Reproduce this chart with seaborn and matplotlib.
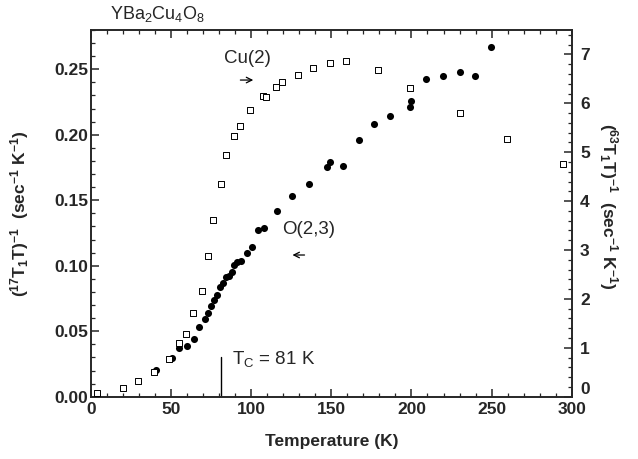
import numpy as np
import pandas as pd
import matplotlib
matplotlib.use("Agg")
import matplotlib.pyplot as plt
from matplotlib.ticker import MultipleLocator
import seaborn as sns

# O(2,3) 17O relaxation rate, left axis
T_O = [40.6, 50.7, 55.1, 60.1, 64.1, 67.6, 71.3, 73.2, 75.1, 76.8, 78.7, 80.5,
       82.2, 84.3, 86.1, 88.0, 89.5, 91.3, 93.8, 97.2, 100.7, 104.4, 107.8,
       115.9, 125.7, 135.9, 147.1, 149.2, 157.3, 167.5, 176.5, 186.5, 199.1,
       199.6, 209.3, 219.9, 230.3, 239.7, 249.5]
rate_O = [0.0204, 0.0293, 0.0370, 0.0387, 0.0441, 0.0532, 0.0596, 0.0641,
          0.0695, 0.0738, 0.0777, 0.0835, 0.0866, 0.0916, 0.0922, 0.0952,
          0.1008, 0.1029, 0.1038, 0.1100, 0.1145, 0.1273, 0.1290, 0.1418,
          0.1533, 0.1626, 0.1756, 0.1794, 0.1762, 0.1960, 0.2085, 0.2146,
          0.2214, 0.2260, 0.2426, 0.2449, 0.2477, 0.2449, 0.2668]

# Cu(2) 63Cu relaxation rate, right axis
T_Cu = [3.9, 20.0, 29.5, 39.3, 48.9, 54.9, 59.3, 63.9, 69.3, 72.8, 76.3, 81.1,
        84.1, 89.3, 93.2, 99.1, 107.6, 109.1, 115.3, 119.0, 129.0, 138.8,
        149.2, 159.2, 179.0, 199.1, 230.3, 259.5, 294.8]
rate_Cu = [0.08, 0.18, 0.32, 0.50, 0.77, 1.09, 1.28, 1.72, 2.16, 2.87, 3.61,
           4.35, 4.94, 5.33, 5.53, 5.86, 6.15, 6.14, 6.33, 6.43, 6.57, 6.72,
           6.82, 6.87, 6.68, 6.31, 5.81, 5.28, 4.75]

Tc = 81

df_O = pd.DataFrame({"T": T_O, "rate": rate_O})
df_Cu = pd.DataFrame({"T": T_Cu, "rate": rate_Cu})

sns.set_style("ticks")
plt.rcParams["font.family"] = ["Liberation Sans", "DejaVu Sans"]
plt.rcParams["mathtext.default"] = "regular"

fig = plt.figure(figsize=(6.38, 4.59), dpi=100)
ax = fig.add_axes([0.1426, 0.1357, 0.7535, 0.7989])
ax2 = ax.twinx()

sns.scatterplot(data=df_O, x="T", y="rate", ax=ax, color="black", marker="o",
                s=26, edgecolor="black", linewidth=0, zorder=3)
sns.scatterplot(data=df_Cu, x="T", y="rate", ax=ax2, marker="s", s=18,
                facecolor="white", edgecolor="black", linewidth=0.7, zorder=3)

ax.set_xlim(0, 300)
ax.set_ylim(0, 0.28)
ax2.set_ylim(0, 7.5)

ax.xaxis.set_major_locator(MultipleLocator(50))
ax.xaxis.set_minor_locator(MultipleLocator(10))
ax.yaxis.set_major_locator(MultipleLocator(0.05))
ax.yaxis.set_minor_locator(MultipleLocator(0.01))
ax2.yaxis.set_major_locator(MultipleLocator(1))
ax2.yaxis.set_minor_locator(MultipleLocator(0.2))
ax.yaxis.set_major_formatter(matplotlib.ticker.FormatStrFormatter("%.2f"))

for a in (ax, ax2):
    for sp in a.spines.values():
        sp.set_linewidth(1.2)
        sp.set_visible(True)
    a.tick_params(which="major", direction="in", length=6, width=1.1,
                  labelsize=12.5, pad=2)
    a.tick_params(which="minor", direction="in", length=3, width=0.9)
ax.tick_params(which="both", top=True, right=False)
ax.tick_params(axis="x", pad=4)
ax2.tick_params(which="both", left=False, right=True)
ax2.tick_params(axis="y", pad=6)
fig.canvas.draw()
for lab in ax.get_xticklabels() + ax.get_yticklabels() + ax2.get_yticklabels():
    lab.set_fontweight("bold")
# right-hand "0" sits a little higher, clear of the "300"
for lab in ax2.get_yticklabels():
    if lab.get_text() == "0":
        lab.set_verticalalignment("bottom")

ax.set_xlabel("Temperature (K)", fontsize=12.5, fontweight="bold", labelpad=12)
ax.set_ylabel(r"($^{17}$T$_1$T)$^{-1}$  (sec$^{-1}$ K$^{-1}$)", fontsize=12.5,
              fontweight="bold")
ax.yaxis.set_label_coords(-0.125, 0.5)
ax2.set_ylabel(r"($^{63}$T$_1$T)$^{-1}$  (sec$^{-1}$ K$^{-1}$)", fontsize=12.5,
               fontweight="bold", rotation=270)
ax2.yaxis.set_label_coords(1.10, 0.52)

# annotations
ax.text(97.4, 0.258, "Cu(2)", fontsize=13.5, ha="center", va="center")
ax.annotate("", xy=(103, 0.2418), xytext=(91.5, 0.2418),
            arrowprops=dict(arrowstyle="->", lw=0.9, color="black"))
ax.text(136, 0.1273, "O(2,3)", fontsize=13.5, ha="center", va="center")
ax.annotate("", xy=(124, 0.1082), xytext=(135, 0.1082),
            arrowprops=dict(arrowstyle="->", lw=0.9, color="black"))
ax.plot([Tc, Tc], [0, 0.03], color="black", lw=1.0)
ax.text(88, 0.029, r"T$_C$ = 81 K", fontsize=13.5, ha="left", va="center")

fig.text(110 / 638, 1 - 14 / 459, r"YBa$_2$Cu$_4$O$_8$", fontsize=13,
         ha="left", va="center")

fig.savefig("out.png", dpi=100)
